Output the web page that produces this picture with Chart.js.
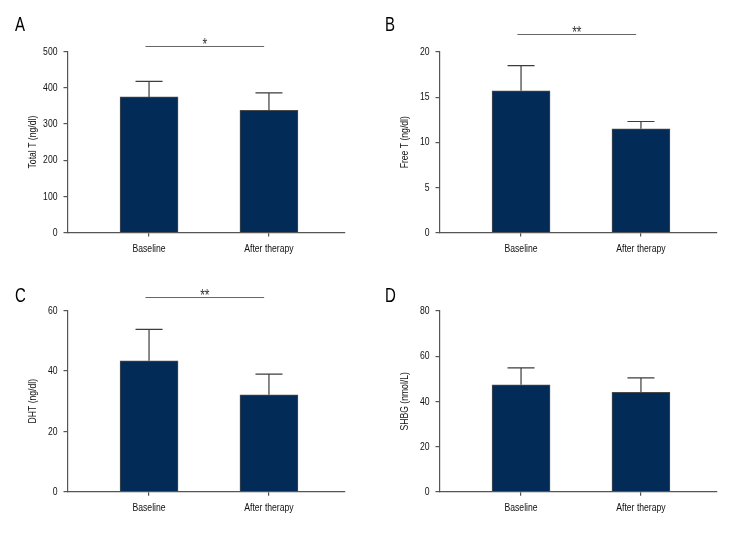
<!DOCTYPE html>
<html>
<head>
<meta charset="utf-8">
<script src="https://cdn.jsdelivr.net/npm/chart.js@4"></script>
<style>
  body { margin: 0; background: #fff; }
  #wrap { position: relative; width: 744px; height: 540px; }
  canvas { position: absolute; }
</style>
</head>
<body>
<div id="wrap">
  <canvas id="chartA" width="372" height="270" style="left:0;top:0"></canvas>
  <canvas id="chartB" width="372" height="270" style="left:372px;top:0"></canvas>
  <canvas id="chartC" width="372" height="270" style="left:0;top:270px"></canvas>
  <canvas id="chartD" width="372" height="270" style="left:372px;top:270px"></canvas>
</div>
<script>
// data (mean and upper SD whisker)
const categories = ['Baseline', 'After therapy'];
const totalT = [375, 338];
const totalTErr = [43, 48];
const freeT = [15.7, 11.5];
const freeTErr = [2.8, 0.8];
const dht = [43.4, 32.1];
const dhtErr = [10.4, 6.9];
const shbg = [47.3, 44.0];
const shbgErr = [7.5, 6.4];

const panelLetters = ['A', 'B', 'C', 'D'];
const yTitles = ['Total T (ng/dl)', 'Free T (ng/dl)', 'DHT (ng/dl)', 'SHBG (nmol/L)'];
const yMax = [500, 20, 60, 80];
const yStep = [100, 5, 20, 20];
const sigStars = ['*', '**', '**', null];
const sigLevel = [516, 21.95, 64.4, null];

const FONT = "'Liberation Sans', Arial, sans-serif";
const AXIS = '#555';
const TEXT = '#111';
const SQUEEZE = 0.75; // no narrow font installed, so squeeze text horizontally

// condensed look for all text on the canvas
const condensePlugin = {
  id: 'condense',
  beforeInit(chart) {
    const ctx = chart.ctx;
    const fill = ctx.fillText.bind(ctx);
    ctx.fillText = function (text, x, y, maxWidth) {
      ctx.save();
      ctx.translate(x, y);
      ctx.scale(SQUEEZE, 1);
      if (maxWidth === undefined) {
        fill(text, 0, 0);
      } else {
        fill(text, 0, 0, maxWidth / SQUEEZE);
      }
      ctx.restore();
    };
  }
};

// error bars, significance bracket and panel letter
const decoPlugin = {
  id: 'deco',
  afterDatasetsDraw(chart, args, opts) {
    const ctx = chart.ctx;
    const y = chart.scales.y;
    const meta = chart.getDatasetMeta(0);
    ctx.save();
    ctx.strokeStyle = '#3c3c3c';
    ctx.lineWidth = 1.2;
    meta.data.forEach((bar, i) => {
      const top = y.getPixelForValue(opts.values[i] + opts.errors[i]);
      ctx.beginPath();
      ctx.moveTo(bar.x, bar.y);
      ctx.lineTo(bar.x, top);
      ctx.moveTo(bar.x - 13.5, top);
      ctx.lineTo(bar.x + 13.5, top);
      ctx.stroke();
    });
    ctx.restore();
  },
  afterDraw(chart, args, opts) {
    const ctx = chart.ctx;
    const x = chart.scales.x;
    const y = chart.scales.y;
    ctx.save();
    if (opts.stars) {
      const ly = Math.round(y.getPixelForValue(opts.level)) + 0.5;
      const x1 = x.getPixelForValue(0.97);
      const x2 = x.getPixelForValue(1.96);
      ctx.strokeStyle = '#666';
      ctx.lineWidth = 1;
      ctx.beginPath();
      ctx.moveTo(x1, ly);
      ctx.lineTo(x2, ly);
      ctx.stroke();
      ctx.fillStyle = '#333';
      ctx.font = '16px ' + FONT;
      ctx.textAlign = 'center';
      ctx.textBaseline = 'alphabetic';
      ctx.fillText(opts.stars, (x1 + x2) / 2, ly + 3);
    }
    ctx.fillStyle = '#000';
    ctx.font = '20px ' + FONT;
    ctx.textAlign = 'left';
    ctx.textBaseline = 'alphabetic';
    ctx.fillText(opts.letter, opts.lx, opts.ly);
    ctx.restore();
  }
};

function makePanel(id, idx, values, errors, top, bottom, letterX, letterY) {
  const config = {
    type: 'bar',
    data: {
      datasets: [{
        data: values.map((v, i) => ({x: i + 1, y: v})),
        backgroundColor: '#032b57',
        borderColor: '#4a4a4a',
        borderWidth: 1,
        barThickness: 58,
      }],
    },
    options: {
      responsive: false,
      animation: false,
      layout: {padding: {left: 0, right: 27.5, top: top, bottom: bottom}},
      plugins: {
        legend: {display: false},
        tooltip: {enabled: false},
        deco: {values: values, errors: errors, stars: sigStars[idx], level: sigLevel[idx],
               letter: panelLetters[idx], lx: letterX, ly: letterY},
      },
      scales: {
        x: {
          type: 'linear',
          min: 0.32,
          max: 2.63,
          offset: false,
          afterBuildTicks: (scale) => { scale.ticks = [{value: 1}, {value: 2}]; },
          afterFit: (scale) => { scale.height = 30; },
          ticks: {
            callback: (v) => categories[v - 1],
            font: {family: FONT, size: 11.5},
            color: TEXT,
            padding: 5,
            maxRotation: 0,
          },
          grid: {offset: false, drawOnChartArea: false, drawTicks: true, tickLength: 4, color: AXIS, lineWidth: 1.2},
          border: {display: true, color: AXIS, width: 1.2},
        },
        y: {
          min: 0,
          max: yMax[idx],
          afterFit: (scale) => { scale.width = 67.5; },
          ticks: {
            stepSize: yStep[idx],
            font: {family: FONT, size: 11.5},
            color: TEXT,
            padding: 6,
          },
          title: {
            display: true,
            text: yTitles[idx],
            font: {family: FONT, size: 11.5},
            color: TEXT,
            padding: {top: 26, bottom: 0},
          },
          grid: {drawOnChartArea: false, drawTicks: true, tickLength: 4, color: AXIS, lineWidth: 1.2},
          border: {display: true, color: AXIS, width: 1.2},
        },
      },
    },
    plugins: [condensePlugin, decoPlugin],
  };
  new Chart(document.getElementById(id), config);
}

makePanel('chartA', 0, totalT, totalTErr, 51.7, 7.5, 15, 31);
makePanel('chartB', 1, freeT, freeTErr, 52, 7.5, 13, 31);
makePanel('chartC', 2, dht, dhtErr, 40.7, 18.3, 15, 32);
makePanel('chartD', 3, shbg, shbgErr, 41, 18.3, 13, 32);
</script>
</body>
</html>
